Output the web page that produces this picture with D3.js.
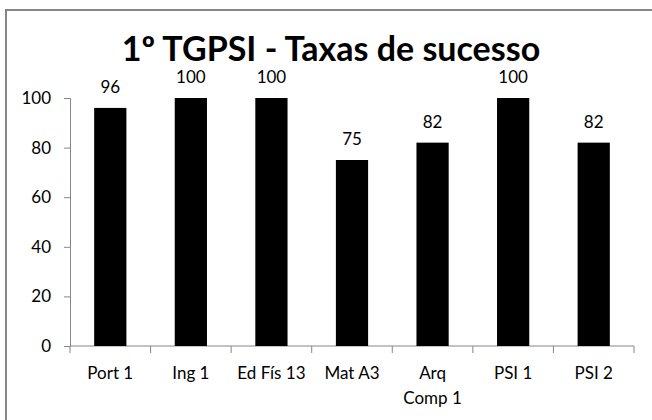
<!DOCTYPE html>
<html>
<head>
<meta charset="utf-8">
<script src="https://cdn.jsdelivr.net/npm/d3@7"></script>
<style>
  body { margin: 0; background: #fff; }
  text { font-family: Lato, "Open Sans", sans-serif; fill: #000; }
</style>
</head>
<body>
<div id="chart"></div>
<script>
// Data
//= ================================
var categories = ["Port 1", "Ing 1", "Ed Fís 13", "Mat A3", "Arq Comp 1", "PSI 1", "PSI 2"];
var successRates = [96, 100, 100, 75, 82, 100, 82];
var yTicks = [0, 20, 40, 60, 80, 100];
var chartTitle = "1º TGPSI - Taxas de sucesso";

// Set up the chart
//= ================================
var svgWidth = 652;
var svgHeight = 420;

var margin = { top: 98, right: 18, bottom: 74, left: 70 };
var width = svgWidth - margin.left - margin.right;
var height = svgHeight - margin.top - margin.bottom;

var svg = d3.select("#chart")
    .append("svg")
    .attr("width", svgWidth)
    .attr("height", svgHeight);

// outer chart border (cut off on right and bottom in the original)
svg.append("rect")
    .attr("x", 6)
    .attr("y", 10)
    .attr("width", 700)
    .attr("height", 500)
    .attr("fill", "none")
    .attr("stroke", "#868686")
    .attr("stroke-width", 2);

var chartGroup = svg.append("g")
    .attr("transform", `translate(${margin.left}, ${margin.top})`);

// scales
var xBandScale = d3.scaleBand()
    .domain(categories)
    .range([0, width])
    .paddingInner(0.6)
    .paddingOuter(0.3);

var yLinearScale = d3.scaleLinear()
    .domain([0, 100])
    .range([height, 0]);

// y axis
var leftAxis = d3.axisLeft(yLinearScale)
    .tickValues(yTicks)
    .tickSize(6)
    .tickPadding(13);

var yAxisGroup = chartGroup.append("g").call(leftAxis);
yAxisGroup.select(".domain").attr("stroke", "#868686");
yAxisGroup.selectAll(".tick line").attr("stroke", "#868686");
yAxisGroup.selectAll(".tick text")
    .style("font-size", "17px")
    .style("font-family", "Lato, sans-serif");

// x axis: ticks sit between categories
var xAxisGroup = chartGroup.append("g")
    .attr("transform", `translate(0, ${height})`);

xAxisGroup.append("line")
    .attr("x1", 0)
    .attr("x2", width)
    .attr("stroke", "#868686");

var step = xBandScale.step();
var boundaries = d3.range(categories.length + 1);
xAxisGroup.selectAll(".xtick")
    .data(boundaries)
    .enter()
    .append("line")
    .attr("class", "xtick")
    .attr("x1", function(d) { return d * step; })
    .attr("x2", function(d) { return d * step; })
    .attr("y1", 0)
    .attr("y2", 7)
    .attr("stroke", "#868686");

// category labels, wrapped when too long
var xLabels = xAxisGroup.selectAll(".xlabel")
    .data(categories)
    .enter()
    .append("text")
    .attr("class", "xlabel")
    .attr("text-anchor", "middle")
    .style("font-size", "17px")
    .attr("x", function(d) { return xBandScale(d) + xBandScale.bandwidth() / 2; })
    .attr("y", 33);

xLabels.each(function(d) {
    var lines = d === "Arq Comp 1" ? ["Arq", "Comp 1"] : [d];
    var el = d3.select(this);
    lines.forEach(function(line, i) {
        el.append("tspan")
            .attr("x", el.attr("x"))
            .attr("dy", i === 0 ? 0 : 25)
            .text(line);
    });
});

// bars
chartGroup.selectAll(".bar")
    .data(successRates)
    .enter()
    .append("rect")
    .attr("class", "bar")
    .attr("x", function(d, i) { return xBandScale(categories[i]); })
    .attr("y", function(d) { return yLinearScale(d); })
    .attr("width", xBandScale.bandwidth())
    .attr("height", function(d) { return height - yLinearScale(d); })
    .attr("fill", "#000");

// value labels above bars
chartGroup.selectAll(".value")
    .data(successRates)
    .enter()
    .append("text")
    .attr("class", "value")
    .attr("text-anchor", "middle")
    .style("font-size", "17px")
    .attr("x", function(d, i) { return xBandScale(categories[i]) + xBandScale.bandwidth() / 2; })
    .attr("y", function(d) { return yLinearScale(d) - 15; })
    .text(function(d) { return d; });

// title
svg.append("text")
    .attr("x", 331)
    .attr("y", 61)
    .attr("text-anchor", "middle")
    .style("font-size", "34px")
    .style("font-weight", "bold")
    .text(chartTitle);
</script>
</body>
</html>
